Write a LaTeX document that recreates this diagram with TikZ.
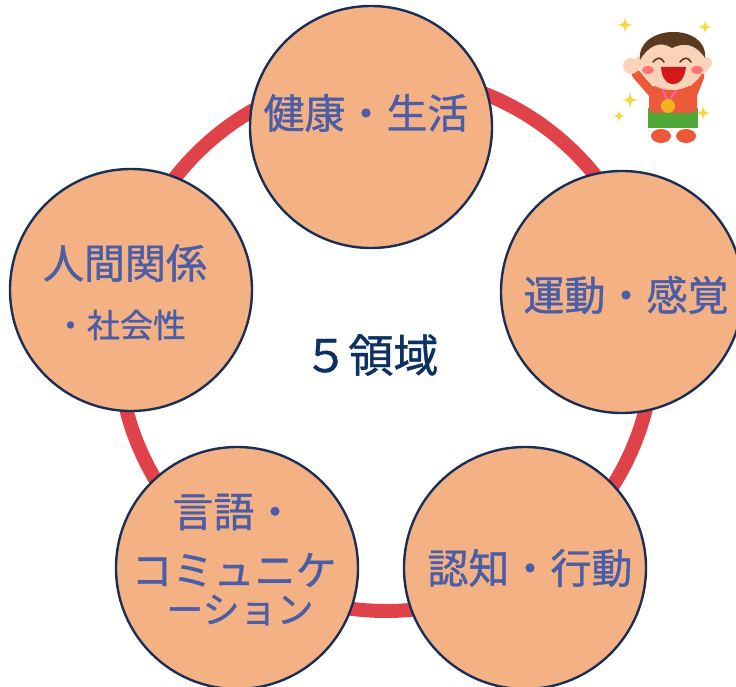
\documentclass[tikz,border=0pt]{standalone}
\usepackage{fontspec}
\newfontfamily\jpfont{Noto Sans CJK JP}[FakeBold=0.9]
\definecolor{ringred}{HTML}{E0424A}
\definecolor{petal}{HTML}{F3B184}
\definecolor{rim}{HTML}{1B2E55}
\definecolor{labelblue}{HTML}{4A5DA7}
\definecolor{titlenavy}{HTML}{0D3163}
\definecolor{sparkle}{HTML}{F7D83A}
\definecolor{skin}{HTML}{FAD3B8}
\definecolor{hair}{HTML}{5B3A22}
\definecolor{shirt}{HTML}{EC5A3A}
\definecolor{shorts}{HTML}{4FA838}
\definecolor{gold}{HTML}{F2B21E}
\begin{document}
\begin{tikzpicture}[x=1pt,y=-1pt,
  ringline/.style={draw=ringred, line width=14pt},
  areabox/.style={circle, draw=rim, line width=2.4pt, fill=petal,
    minimum size=242pt, inner sep=0pt},
  lbl/.style={text=labelblue, inner sep=0pt,
    font=\jpfont\fontsize{41}{41}\selectfont},
  sublbl/.style={lbl, font=\jpfont\fontsize{33}{33}\selectfont},
  kanalbl/.style={lbl, font=\jpfont\fontsize{37}{37}\selectfont},
  centertitle/.style={text=titlenavy, inner sep=0pt,
    font=\jpfont\fontsize{45}{45}\selectfont}]
\useasboundingbox (0,0) rectangle (736,687);
\clip (0,0) rectangle (736,687);

% the ring joining the five areas
\coordinate (hub) at (386,343);
\draw[ringline] (hub) circle[radius=268pt];

% the five areas
\node[areabox] (health)  at (371,127) {};
\node[areabox] (motor)   at (622,292) {};
\node[areabox] (cogn)    at (525,568) {};
\node[areabox] (lang)    at (237,568) {};
\node[areabox] (social)  at (131,290) {};

\node[lbl] (healthtxt) at (366,113) {健康・生活};
\node[lbl] (motortxt)  at (626,295) {運動・感覚};
\node[lbl] (cogntxt)   at (530,568) {認知・行動};
\node[lbl] (socialtxt) at (125,263) {人間関係};
\node[sublbl] (socialsub) at (120,325) {・社会性};
\node[lbl] (langtxt)   at (234,512) {言語・};
\node[lbl] (langtxtb)  at (234,570) {コミュニケ};
\node[kanalbl] (langtxtc) at (240,610) {ーション};

\node[centertitle] (center) at (371,355) {５領域};

% cheering child with sparkles
\foreach \px/\py/\s in {625/25/9, 705/27/7, 630/100/9, 619/116/6, 703/113/8}
  \fill[sparkle, shift={(\px,\py)}]
    (0,-\s) .. controls (1,-1) .. (\s,0) .. controls (1,1) .. (0,\s)
    .. controls (-1,1) .. (-\s,0) .. controls (-1,-1) .. cycle;
\begin{scope}
  % arms
  \draw[shirt, line width=9pt, line cap=round] (655,96) -- (636,74);
  \draw[shirt, line width=9pt, line cap=round] (692,96) -- (700,76);
  \fill[skin] (631,66) circle[radius=8pt];
  \fill[skin] (701,66) circle[radius=8pt];
  % legs and shoes
  \fill[shirt] (661,136) ellipse[x radius=10pt, y radius=7pt];
  \fill[shirt] (686,136) ellipse[x radius=10pt, y radius=7pt];
  % shorts and shirt
  \fill[shorts] (648,108) rectangle (698,128);
  \fill[shirt, rounded corners=5pt] (649,86) rectangle (697,113);
  % medal
  \draw[magenta!60, line width=1.5pt] (662,88) -- (668,102) -- (678,88);
  \fill[gold] (668,106) circle[radius=7pt];
  % head
  \fill[skin] (639,63) circle[radius=6pt];
  \fill[skin] (706,63) circle[radius=6pt];
  \fill[skin] (672,61) ellipse[x radius=33pt, y radius=29pt];
  \fill[hair] (640,60) .. controls (636,24) and (708,22) .. (705,58)
    .. controls (696,44) and (684,42) .. (672,48)
    .. controls (660,40) and (648,46) .. cycle;
  % face
  \draw[hair, line width=1.6pt, line cap=round]
    (653,62) .. controls (657,57) and (661,57) .. (664,62);
  \draw[hair, line width=1.6pt, line cap=round]
    (680,62) .. controls (684,57) and (688,57) .. (691,62);
  \fill[red!55] (648,70) ellipse[x radius=6pt, y radius=4pt];
  \fill[red!55] (697,70) ellipse[x radius=6pt, y radius=4pt];
  \fill[red!80!black!90] (661,67) .. controls (662,90) and (684,90) .. (686,67) -- cycle;
\end{scope}
\end{tikzpicture}
\end{document}
